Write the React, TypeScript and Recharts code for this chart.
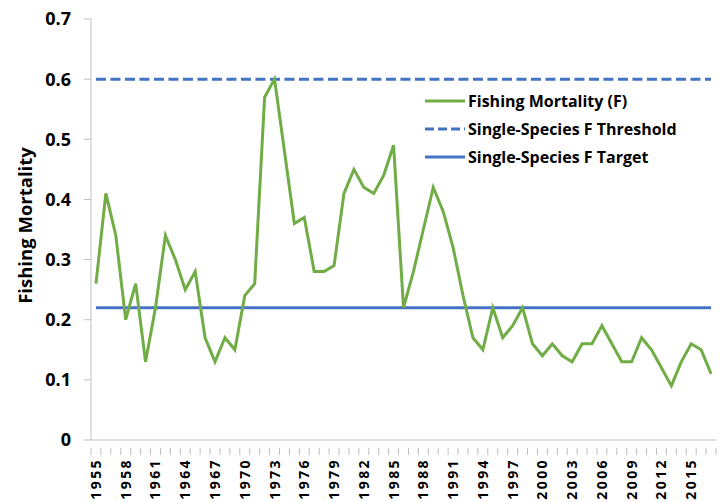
import React from 'react';
import { ComposedChart, Line, XAxis, YAxis } from 'recharts';

const years = [
  '1955','1956','1957','1958','1959','1960','1961','1962','1963','1964',
  '1965','1966','1967','1968','1969','1970','1971','1972','1973','1974',
  '1975','1976','1977','1978','1979','1980','1981','1982','1983','1984',
  '1985','1986','1987','1988','1989','1990','1991','1992','1993','1994',
  '1995','1996','1997','1998','1999','2000','2001','2002','2003','2004',
  '2005','2006','2007','2008','2009','2010','2011','2012','2013','2014',
  '2015','2016','2017'
];

const fishingMortality = [
  0.26, 0.41, 0.34, 0.20, 0.26, 0.13, 0.22, 0.34, 0.30, 0.25,
  0.28, 0.17, 0.13, 0.17, 0.15, 0.24, 0.26, 0.57, 0.60, 0.48,
  0.36, 0.37, 0.28, 0.28, 0.29, 0.41, 0.45, 0.42, 0.41, 0.44,
  0.49, 0.22, 0.28, 0.35, 0.42, 0.38, 0.32, 0.24, 0.17, 0.15,
  0.22, 0.17, 0.19, 0.22, 0.16, 0.14, 0.16, 0.14, 0.13, 0.16,
  0.16, 0.19, 0.16, 0.13, 0.13, 0.17, 0.15, 0.12, 0.09, 0.13,
  0.16, 0.15, 0.11
];

const fThreshold = 0.6;
const fTarget = 0.22;

const yTicks = [0, 0.1, 0.2, 0.3, 0.4, 0.5, 0.6, 0.7];

const data = years.map((year, i) => ({
  year,
  f: fishingMortality[i],
  threshold: fThreshold,
  target: fTarget,
}));

const GREEN = '#70AD47';
const BLUE = '#4472C4';
const AXIS = '#BFBFBF';
const FONT = '"Open Sans", "DejaVu Sans", sans-serif';

const W = 724;
const H = 502;
const LEFT = 91;
const RIGHT = 8;
const BAND = (W - LEFT - RIGHT) / years.length;

function YearTick(props: any) {
  const { x, y, payload, index } = props;
  const left = x - BAND / 2;
  return (
    <g>
      <line x1={left} x2={left} y1={y} y2={y + 7} stroke={AXIS} />
      {index === years.length - 1 && (
        <line x1={x + BAND / 2} x2={x + BAND / 2} y1={y} y2={y + 7} stroke={AXIS} />
      )}
      {index % 3 === 0 && (
        <text
          x={0}
          y={0}
          transform={`translate(${x + 5},${y + 10}) rotate(-90)`}
          textAnchor="end"
          fontFamily={FONT}
          fontWeight="bold"
          fontSize={14}
          letterSpacing={2.4}
          fill="#000"
        >
          {payload.value}
        </text>
      )}
    </g>
  );
}

function YTitle(props: any) {
  const { viewBox } = props;
  const cy = viewBox.y + viewBox.height / 2 - 4;
  return (
    <text
      x={0}
      y={0}
      transform={`translate(32,${cy}) rotate(-90)`}
      textAnchor="middle"
      fontFamily={FONT}
      fontWeight="bold"
      fontSize={18.5}
      fill="#000"
    >
      Fishing Mortality
    </text>
  );
}

const legendItems = [
  { name: 'Fishing Mortality (F)', color: GREEN, dash: undefined as string | undefined },
  { name: 'Single-Species F Threshold', color: BLUE, dash: '9 4' },
  { name: 'Single-Species F Target', color: BLUE, dash: undefined as string | undefined },
];

function LegendBox() {
  return (
    <div
      style={{
        position: 'absolute',
        left: 425,
        top: 87,
        fontFamily: FONT,
        fontWeight: 'bold',
        fontSize: 16,
        color: '#000',
      }}
    >
      {legendItems.map(it => (
        <div key={it.name} style={{ display: 'flex', alignItems: 'center', height: 28 }}>
          <svg width={43} height={10}>
            <line x1={0} x2={40} y1={5} y2={5} stroke={it.color} strokeWidth={3} strokeDasharray={it.dash} />
          </svg>
          <span>{it.name}</span>
        </div>
      ))}
    </div>
  );
}

export default function App() {
  return (
    <div style={{ position: 'absolute', left: 0, top: 0, width: W, height: H, background: '#fff' }}>
      <ComposedChart
        width={W}
        height={H}
        data={data}
        margin={{ top: 19, right: RIGHT, bottom: 0, left: 0 }}
      >
        <XAxis
          dataKey="year"
          scale="band"
          interval={0}
          height={62}
          tickLine={false}
          axisLine={{ stroke: AXIS }}
          tick={<YearTick />}
        />
        <YAxis
          yAxisId="l"
          width={LEFT}
          domain={[0, 0.7]}
          ticks={yTicks}
          tickSize={7}
          tickMargin={13}
          tickLine={{ stroke: AXIS }}
          axisLine={{ stroke: AXIS }}
          tickFormatter={(v: number) => String(v)}
          tick={{ fontFamily: FONT, fontWeight: 'bold', fontSize: 18, fill: '#000' }}
          label={<YTitle />}
        />
        <YAxis
          yAxisId="r"
          orientation="right"
          width={0}
          domain={[0, 0.7]}
          tick={false}
          tickLine={false}
          axisLine={{ stroke: AXIS }}
        />
        <Line yAxisId="l" dataKey="threshold" name="Single-Species F Threshold" stroke={BLUE} strokeWidth={3} strokeDasharray="10 4.5" dot={false} isAnimationActive={false} />
        <Line yAxisId="l" dataKey="target" name="Single-Species F Target" stroke={BLUE} strokeWidth={3} dot={false} isAnimationActive={false} />
        <Line yAxisId="l" dataKey="f" name="Fishing Mortality (F)" stroke={GREEN} strokeWidth={3} dot={false} isAnimationActive={false} />
      </ComposedChart>
      <LegendBox />
    </div>
  );
}
